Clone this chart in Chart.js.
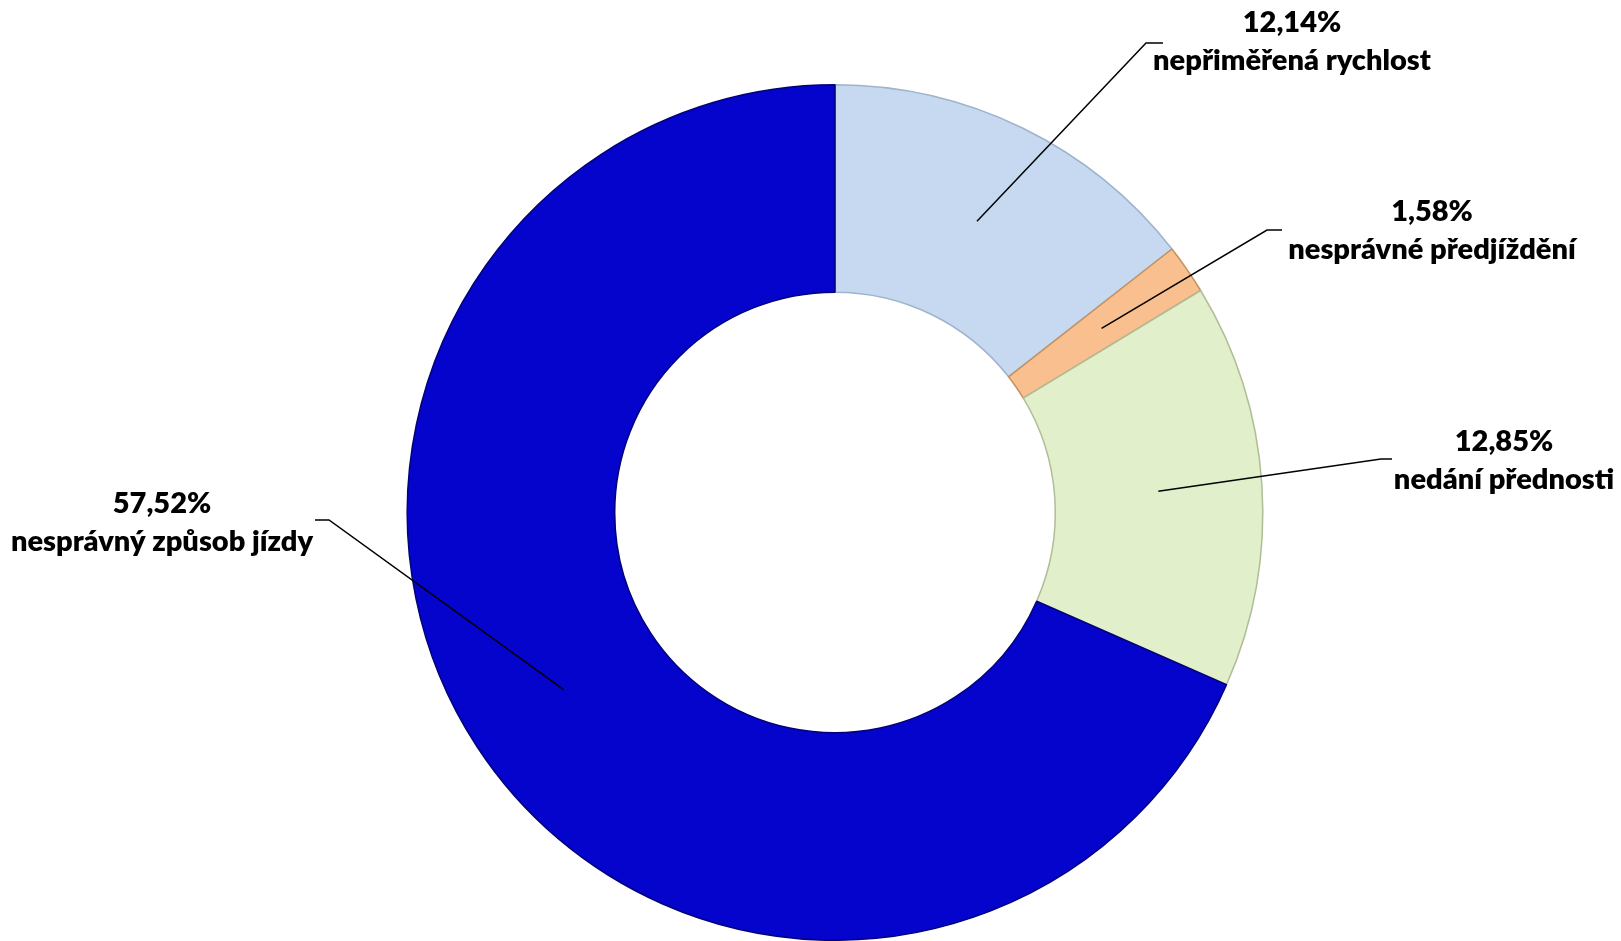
<!DOCTYPE html>
<html lang="cs">
<head>
<meta charset="utf-8">
<title>Příčiny nehod</title>
<script src="https://cdn.jsdelivr.net/npm/chart.js@4.4.1/dist/chart.umd.min.js"></script>
<style>
    html, body { margin: 0; padding: 0; background: #FFFFFF; }
    #wrap { position: relative; width: 1621px; height: 941px; }
</style>
</head>
<body>
<div id="wrap"><canvas id="causesChart"></canvas></div>
<script>
// Data
var causeLabels = ['nepřiměřená rychlost', 'nesprávné předjíždění', 'nedání přednosti', 'nesprávný způsob jízdy'];
var causeShares = [12.14, 1.58, 12.85, 57.52];

// Colors
var sliceColors = ['#C6D9F1', '#F9BF8E', '#E2EFCB', '#0404CD'];
var edgeColors = ['#9FB3CC', '#C2925F', '#AFBD98', '#02027A'];

// Where each callout sits: elbow of the leader line, end of its short tail, text centre
var calloutLayout = [
    { elbow: [1146, 43],  tail: 1163, text: [1292, 23] },
    { elbow: [1267, 230], tail: 1282, text: [1432, 212] },
    { elbow: [1381, 459], tail: 1392, text: [1504, 442] },
    { elbow: [329, 520],  tail: 315,  text: [162, 504] }
];

function formatShare(v) {
    return v.toFixed(2).replace('.', ',') + '%';
}

// ─── Callouts (leader line + two-line bold label) ─────────────────────────
var calloutPlugin = {
    id: 'callouts',
    afterDatasetsDraw: function (chart) {
        var ctx = chart.ctx;
        var arcs = chart.getDatasetMeta(0).data;
        ctx.save();
        ctx.strokeStyle = '#000000';
        ctx.lineWidth = 1.5;
        ctx.fillStyle = '#000000';
        ctx.font = '800 29px Lato, "Open Sans", sans-serif';
        ctx.textAlign = 'center';
        ctx.textBaseline = 'middle';
        arcs.forEach(function (arc, i) {
            var p = arc.getCenterPoint();
            var lay = calloutLayout[i];
            ctx.beginPath();
            ctx.moveTo(p.x, p.y);
            ctx.lineTo(lay.elbow[0], lay.elbow[1]);
            ctx.lineTo(lay.tail, lay.elbow[1]);
            ctx.stroke();
            ctx.fillText(formatShare(causeShares[i]), lay.text[0], lay.text[1]);
            ctx.fillText(causeLabels[i], lay.text[0], lay.text[1] + 38);
        });
        ctx.restore();
    }
};

var ctx1 = document.getElementById('causesChart').getContext('2d');
new Chart(ctx1, {
    type: 'doughnut',
    data: {
        labels: causeLabels,
        datasets: [{
            data: causeShares,
            backgroundColor: sliceColors,
            borderColor: edgeColors,
            borderWidth: 1.5
        }]
    },
    options: {
        responsive: true,
        maintainAspectRatio: false,
        animation: false,
        cutout: '51.5%',
        layout: {
            padding: { top: 84, bottom: 0, left: 405, right: 356 }
        },
        plugins: {
            legend: { display: false },
            tooltip: { enabled: false }
        }
    },
    plugins: [calloutPlugin]
});
</script>
</body>
</html>
